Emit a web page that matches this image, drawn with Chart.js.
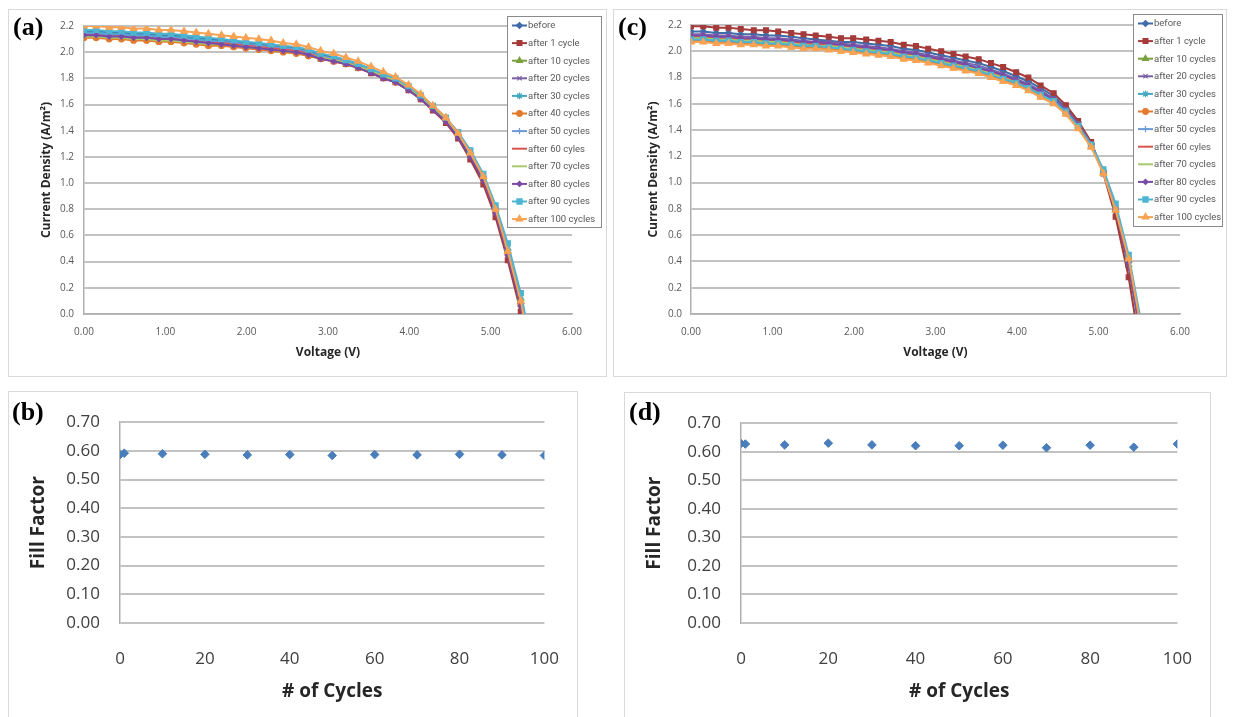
<!DOCTYPE html>
<html>
<head>
<meta charset="utf-8">
<script src="https://cdn.jsdelivr.net/npm/chart.js"></script>
<style>
  html, body { margin: 0; padding: 0; background: #fff; }
  body { width: 1233px; height: 717px; position: relative; overflow: hidden; }
  .panel { position: absolute; border: 1px solid #d9d9d9; box-sizing: border-box; background: #fff; overflow: hidden; }
  .panel canvas { position: absolute; left: 0; top: 0; }
  .tag { position: absolute; font: bold 26px "Liberation Serif", "Times New Roman", serif; line-height: 26px; color: #000; }
</style>
</head>
<body>
<div class="panel" style="left:8px;top:9px;width:599px;height:368px"><canvas id="jvA" width="597" height="366"></canvas></div>
<div class="panel" style="left:613px;top:9px;width:614px;height:368px"><canvas id="jvC" width="612" height="366"></canvas></div>
<div class="panel" style="left:8px;top:391px;width:570px;height:340px"><canvas id="ffB" width="568" height="325"></canvas></div>
<div class="panel" style="left:624px;top:392px;width:587px;height:340px"><canvas id="ffD" width="585" height="324"></canvas></div>
<div class="tag" style="left:13px;top:14px">(a)</div>
<div class="tag" style="left:618px;top:14px">(c)</div>
<div class="tag" style="left:12px;top:399px">(b)</div>
<div class="tag" style="left:629px;top:399px">(d)</div>
<script>
// J-V sweep voltages (V), shared by every curve
const voltages = [0.00, 0.15, 0.31, 0.46, 0.61, 0.77, 0.92, 1.07, 1.23, 1.38, 1.53, 1.69, 1.84, 1.99, 2.15, 2.30, 2.45, 2.61, 2.76,
  2.91, 3.07, 3.22, 3.37, 3.53, 3.68, 3.83, 3.99, 4.14, 4.29, 4.45, 4.60, 4.75, 4.91, 5.06, 5.21, 5.37, 5.52];

const seriesNames = ['before', 'after 1 cycle', 'after 10 cycles', 'after 20 cycles', 'after 30 cycles', 'after 40 cycles',
  'after 50 cycles', 'after 60 cyles', 'after 70 cycles', 'after 80 cycles', 'after 90 cycles', 'after 100 cycles'];

// current density (A/m2), module (a)
const aBefore = [2.16,2.16,2.15,2.15,2.14,2.14,2.13,2.13,2.12,2.11,2.10,2.09,2.08,2.07,2.06,2.05,2.04,2.03,2.01,1.98,1.96,1.94,1.91,1.87,1.83,1.79,1.73,1.66,1.58,1.48,1.37,1.22,1.04,0.79,0.47,0.08,-0.42];
const a1 = [2.12,2.12,2.11,2.11,2.10,2.10,2.09,2.09,2.08,2.07,2.06,2.06,2.05,2.04,2.03,2.02,2.01,2.00,1.98,1.95,1.93,1.91,1.88,1.84,1.80,1.77,1.71,1.64,1.555,1.46,1.34,1.18,0.99,0.74,0.41,0.02,-0.48];
const a10 = [2.13,2.13,2.12,2.12,2.11,2.11,2.10,2.10,2.09,2.08,2.07,2.07,2.06,2.05,2.04,2.03,2.03,2.02,2.00,1.97,1.95,1.93,1.90,1.86,1.82,1.80,1.74,1.67,1.59,1.50,1.38,1.24,1.06,0.82,0.50,0.12,-0.36];
const a20 = [2.14,2.14,2.13,2.13,2.12,2.12,2.11,2.11,2.10,2.09,2.08,2.07,2.06,2.05,2.04,2.03,2.02,2.01,1.99,1.96,1.94,1.92,1.89,1.85,1.81,1.78,1.72,1.65,1.57,1.47,1.36,1.21,1.03,0.78,0.45,0.07,-0.42];
const a30 = [2.15,2.15,2.14,2.14,2.13,2.13,2.12,2.12,2.11,2.10,2.09,2.08,2.07,2.06,2.05,2.04,2.03,2.02,2.00,1.97,1.95,1.93,1.90,1.86,1.82,1.79,1.73,1.66,1.58,1.49,1.37,1.23,1.05,0.81,0.49,0.11,-0.37];
const a40 = [2.11,2.11,2.10,2.10,2.09,2.09,2.08,2.08,2.07,2.06,2.05,2.05,2.04,2.03,2.02,2.01,2.00,1.99,1.97,1.95,1.93,1.91,1.88,1.85,1.81,1.77,1.72,1.65,1.57,1.48,1.36,1.21,1.03,0.78,0.46,0.07,-0.42];
const a50 = [2.14,2.14,2.13,2.13,2.12,2.12,2.11,2.11,2.10,2.09,2.08,2.08,2.07,2.06,2.05,2.04,2.03,2.02,2.00,1.97,1.95,1.93,1.90,1.86,1.82,1.79,1.73,1.66,1.58,1.48,1.37,1.22,1.04,0.80,0.48,0.09,-0.40];
const a60 = [2.13,2.13,2.12,2.12,2.11,2.11,2.10,2.10,2.09,2.08,2.07,2.07,2.06,2.05,2.04,2.03,2.02,2.01,1.99,1.96,1.94,1.92,1.89,1.85,1.81,1.78,1.72,1.65,1.57,1.47,1.36,1.21,1.03,0.78,0.46,0.08,-0.42];
const a70 = [2.12,2.12,2.11,2.11,2.10,2.10,2.09,2.09,2.08,2.07,2.06,2.06,2.05,2.04,2.03,2.02,2.01,2.00,1.98,1.96,1.94,1.92,1.89,1.86,1.82,1.78,1.73,1.66,1.58,1.48,1.37,1.22,1.04,0.79,0.47,0.09,-0.41];
const a80 = [2.13,2.13,2.12,2.12,2.11,2.11,2.10,2.10,2.09,2.08,2.07,2.06,2.05,2.04,2.03,2.02,2.01,2.00,1.98,1.95,1.93,1.91,1.88,1.84,1.80,1.77,1.71,1.64,1.56,1.47,1.35,1.20,1.02,0.77,0.45,0.06,-0.44];
const a90 = [2.17,2.17,2.16,2.16,2.15,2.15,2.14,2.14,2.13,2.12,2.11,2.10,2.09,2.08,2.07,2.06,2.05,2.04,2.02,1.99,1.97,1.94,1.91,1.87,1.83,1.80,1.74,1.67,1.59,1.50,1.39,1.25,1.07,0.83,0.54,0.16,-0.30];
const a100 = [2.20,2.20,2.19,2.19,2.18,2.18,2.17,2.17,2.16,2.15,2.14,2.13,2.12,2.11,2.10,2.09,2.07,2.06,2.04,2.01,1.99,1.96,1.93,1.89,1.85,1.81,1.75,1.68,1.59,1.50,1.38,1.23,1.05,0.80,0.48,0.10,-0.40];

// current density (A/m2), module (c)
const cBefore = [2.15,2.15,2.14,2.14,2.13,2.13,2.12,2.12,2.11,2.10,2.09,2.08,2.07,2.07,2.06,2.05,2.04,2.02,2.01,1.99,1.97,1.95,1.93,1.91,1.88,1.85,1.81,1.77,1.72,1.66,1.57,1.46,1.30,1.08,0.78,0.36,-0.18];
const c1 = [2.19,2.19,2.18,2.18,2.17,2.16,2.16,2.15,2.14,2.13,2.12,2.11,2.10,2.10,2.09,2.08,2.07,2.05,2.04,2.02,2.00,1.98,1.96,1.94,1.91,1.88,1.84,1.80,1.74,1.68,1.59,1.47,1.31,1.07,0.74,0.28,-0.30];
const c10 = [2.10,2.10,2.09,2.09,2.08,2.08,2.07,2.07,2.06,2.05,2.05,2.04,2.03,2.02,2.01,2.00,1.99,1.97,1.96,1.94,1.92,1.90,1.88,1.85,1.83,1.80,1.76,1.72,1.67,1.61,1.54,1.43,1.28,1.08,0.80,0.41,-0.10];
const c20 = [2.13,2.13,2.12,2.12,2.11,2.11,2.10,2.10,2.09,2.08,2.07,2.07,2.06,2.05,2.04,2.03,2.02,2.00,1.99,1.97,1.95,1.93,1.91,1.89,1.86,1.83,1.79,1.75,1.70,1.64,1.56,1.45,1.29,1.08,0.79,0.38,-0.14];
const c30 = [2.11,2.11,2.10,2.10,2.09,2.09,2.08,2.08,2.07,2.06,2.05,2.05,2.04,2.03,2.02,2.01,2.00,1.98,1.97,1.95,1.93,1.91,1.89,1.87,1.84,1.81,1.77,1.73,1.68,1.62,1.55,1.44,1.29,1.09,0.81,0.42,-0.08];
const c40 = [2.08,2.08,2.07,2.07,2.06,2.06,2.05,2.05,2.04,2.03,2.03,2.02,2.01,2.00,1.99,1.98,1.97,1.95,1.94,1.92,1.90,1.88,1.86,1.84,1.81,1.78,1.75,1.71,1.66,1.61,1.53,1.42,1.28,1.08,0.80,0.42,-0.09];
const c50 = [2.12,2.12,2.11,2.11,2.10,2.10,2.09,2.09,2.08,2.07,2.06,2.06,2.05,2.04,2.03,2.02,2.01,1.99,1.98,1.96,1.94,1.92,1.90,1.88,1.85,1.82,1.78,1.74,1.69,1.63,1.55,1.44,1.29,1.08,0.80,0.40,-0.12];
const c60 = [2.11,2.11,2.10,2.10,2.09,2.09,2.08,2.08,2.07,2.06,2.06,2.05,2.04,2.03,2.02,2.01,2.00,1.98,1.97,1.95,1.93,1.91,1.89,1.86,1.84,1.81,1.77,1.73,1.68,1.62,1.55,1.44,1.29,1.08,0.80,0.40,-0.12];
const c70 = [2.10,2.10,2.09,2.09,2.08,2.08,2.07,2.07,2.06,2.05,2.04,2.04,2.03,2.02,2.01,2.00,1.99,1.97,1.96,1.94,1.92,1.90,1.88,1.86,1.83,1.80,1.76,1.72,1.67,1.61,1.54,1.43,1.28,1.08,0.80,0.41,-0.10];
const c80 = [2.12,2.12,2.11,2.11,2.10,2.10,2.09,2.09,2.08,2.07,2.07,2.06,2.05,2.04,2.03,2.02,2.01,1.99,1.98,1.96,1.94,1.92,1.90,1.87,1.85,1.82,1.78,1.74,1.69,1.63,1.55,1.44,1.29,1.08,0.79,0.39,-0.13];
const c90 = [2.09,2.09,2.08,2.08,2.07,2.07,2.06,2.06,2.05,2.04,2.04,2.03,2.02,2.01,2.00,1.99,1.98,1.96,1.95,1.93,1.91,1.89,1.87,1.85,1.82,1.79,1.76,1.72,1.67,1.62,1.54,1.43,1.29,1.10,0.84,0.45,-0.05];
const c100 = [2.07,2.07,2.06,2.06,2.05,2.05,2.04,2.04,2.03,2.02,2.02,2.01,2.00,1.99,1.98,1.97,1.96,1.94,1.93,1.91,1.89,1.87,1.85,1.83,1.80,1.77,1.74,1.70,1.65,1.60,1.52,1.41,1.27,1.07,0.79,0.42,-0.10];

// fill factor vs number of cycles
const cycles = [0, 1, 10, 20, 30, 40, 50, 60, 70, 80, 90, 100];
const ffModuleB = [0.587, 0.592, 0.590, 0.588, 0.586, 0.587, 0.584, 0.587, 0.586, 0.588, 0.586, 0.584];
const ffModuleD = [0.629, 0.627, 0.624, 0.630, 0.624, 0.621, 0.621, 0.623, 0.614, 0.623, 0.616, 0.627];

// Excel-like series styling
const seriesColors = ['#3f6ca8', '#a53a3a', '#7aa03d', '#7b5ea3', '#45a8c3', '#e27b2e', '#6c9ad8', '#d9534f', '#a8c96a', '#7a4ba6', '#4db4d2', '#f8a253'];
const seriesMarkers = ['rectRot', 'rect', 'triangle', 'crossRot', 'star', 'circle', 'cross', false, false, 'rectRot', 'rect', 'triangle'];
const markerSizes = [3, 3.4, 3.4, 3, 3.4, 2.8, 3.2, 0, 0, 2.6, 3.6, 3.8];

const greyText = '#595959';
const gridGrey = '#c2c2c2';
const uiFont = '"Open Sans", "Liberation Sans", sans-serif';

// boxed legend drawn over the plot, like the spreadsheet one
const boxLegend = {
  id: 'boxLegend',
  afterDraw(chart, args, opts) {
    if (!opts || !opts.box) return;
    const { ctx } = chart;
    const [x, y, w, h] = opts.box;
    ctx.save();
    ctx.fillStyle = '#fff';
    ctx.fillRect(x, y, w, h);
    ctx.strokeStyle = '#8a8a8a';
    ctx.lineWidth = 1;
    ctx.strokeRect(x + 0.5, y + 0.5, w, h);
    ctx.font = '9.5px "Liberation Sans Narrow", "Arial Narrow", "Roboto", sans-serif';
    ctx.textBaseline = 'middle';
    chart.data.datasets.forEach((ds, i) => {
      const cy = y + 9.5 + i * opts.rowH;
      ctx.strokeStyle = ds.borderColor;
      ctx.fillStyle = ds.borderColor;
      ctx.lineWidth = 2;
      ctx.beginPath();
      ctx.moveTo(x + 5, cy);
      ctx.lineTo(x + 20, cy);
      ctx.stroke();
      if (ds.pointStyle && ds.pointRadius > 0) {
        ctx.lineWidth = 1.2;
        Chart.helpers.drawPoint(ctx, { pointStyle: ds.pointStyle, radius: ds.pointRadius, borderWidth: 1.2, rotation: 0 }, x + 12.5, cy);
      }
      ctx.fillStyle = greyText;
      ctx.fillText(ds.label, x + 21, cy + 0.5);
    });
    ctx.restore();
  }
};

function jvChart(id, curves, geo) {
  const datasets = curves.map((arr, i) => ({
    label: seriesNames[i],
    data: voltages.map((v, k) => ({ x: v, y: arr[k] })),
    borderColor: seriesColors[i],
    backgroundColor: seriesColors[i],
    borderWidth: 2,
    pointStyle: seriesMarkers[i],
    pointRadius: markerSizes[i],
    pointBorderWidth: 1.2,
    pointBackgroundColor: seriesColors[i],
    pointBorderColor: seriesColors[i],
    tension: 0,
    order: -i
  }));

  return new Chart(document.getElementById(id), {
    type: 'line',
    data: { datasets },
    plugins: [boxLegend],
    options: {
      responsive: false,
      animation: false,
      events: [],
      layout: { padding: { left: 0, top: geo.top, right: geo.right, bottom: 0 } },
      plugins: {
        legend: { display: false },
        tooltip: { enabled: false },
        boxLegend: { box: geo.legend, rowH: 17.6 }
      },
      scales: {
        x: {
          type: 'linear',
          min: 0,
          max: 6,
          afterFit: s => { s.height = geo.xHeight; },
          grid: { display: false },
          border: { display: true, color: '#b0b0b0', width: 1.5 },
          ticks: {
            stepSize: 1,
            autoSkip: false,
            maxRotation: 0,
            padding: 4,
            color: greyText,
            font: { family: uiFont, size: 10 },
            callback: v => v.toFixed(2)
          },
          title: {
            display: true,
            text: 'Voltage (V)',
            color: '#262626',
            font: { family: uiFont, size: 12, weight: 'bold' },
            padding: { top: 0, bottom: 16 }
          }
        },
        y: {
          min: 0,
          max: 2.2,
          afterFit: s => { s.width = geo.yWidth; },
          grid: { color: gridGrey, lineWidth: 2, drawTicks: false },
          border: { display: true, color: '#b0b0b0', width: 1.5 },
          ticks: {
            stepSize: 0.2,
            autoSkip: false,
            padding: geo.tickGap,
            color: greyText,
            font: { family: uiFont, size: 10 },
            callback: v => v.toFixed(1)
          },
          title: {
            display: true,
            text: 'Current Density (A/m²)',
            color: '#262626',
            font: { family: uiFont, size: 12, weight: 'bold' },
            padding: { top: geo.titleGap, bottom: 0 }
          }
        }
      }
    }
  });
}

// fill factor panels: markers only
function ffChart(id, values, geo) {
  return new Chart(document.getElementById(id), {
    type: 'line',
    data: {
      datasets: [{
        label: 'Fill Factor',
        data: cycles.map((c, k) => ({ x: c, y: values[k] })),
        showLine: false,
        borderColor: '#4a7ebb',
        pointStyle: 'rectRot',
        pointRadius: 4.3,
        pointBackgroundColor: '#4a7ebb',
        pointBorderColor: '#4a7ebb',
        pointBorderWidth: 1
      }]
    },
    options: {
      responsive: false,
      animation: false,
      events: [],
      layout: { padding: { left: 0, top: geo.top, right: geo.right, bottom: 0 } },
      plugins: { legend: { display: false }, tooltip: { enabled: false } },
      scales: {
        x: {
          type: 'linear',
          min: 0,
          max: 100,
          afterFit: s => { s.height = geo.xHeight; },
          grid: { display: false },
          border: { display: false },
          ticks: {
            stepSize: 20,
            autoSkip: false,
            maxRotation: 0,
            padding: 18,
            color: '#404040',
            font: { family: uiFont, size: 17 }
          },
          title: {
            display: true,
            text: '# of Cycles',
            color: '#262626',
            font: { family: uiFont, size: 19, weight: 'bold' },
            padding: { top: 0, bottom: 14 }
          }
        },
        y: {
          type: 'linear',
          min: 0,
          max: 0.7,
          afterFit: s => { s.width = geo.yWidth; },
          grid: { color: gridGrey, lineWidth: 2, drawTicks: false },
          border: { display: true, color: '#b0b0b0', width: 1.5 },
          ticks: {
            stepSize: 0.1,
            autoSkip: false,
            padding: 20,
            color: '#404040',
            font: { family: uiFont, size: 17 },
            callback: v => v.toFixed(2)
          },
          title: {
            display: true,
            text: 'Fill Factor',
            color: '#262626',
            font: { family: uiFont, size: 19, weight: 'bold' },
            padding: { top: 18, bottom: 0 }
          }
        }
      }
    }
  });
}

jvChart('jvA', [aBefore, a1, a10, a20, a30, a40, a50, a60, a70, a80, a90, a100],
  { top: 10, right: 34, xHeight: 62, yWidth: 75, tickGap: 10, titleGap: 30, legend: [498, 6, 94, 211] });
jvChart('jvC', [cBefore, c1, c10, c20, c30, c40, c50, c60, c70, c80, c90, c100],
  { top: 10, right: 46, xHeight: 62, yWidth: 77, tickGap: 9, titleGap: 32, legend: [519, 4, 89, 212] });
ffChart('ffB', ffModuleB, { top: 18, right: 31, xHeight: 94, yWidth: 111 });
ffChart('ffD', ffModuleD, { top: 17, right: 31, xHeight: 94, yWidth: 116 });
</script>
</body>
</html>
